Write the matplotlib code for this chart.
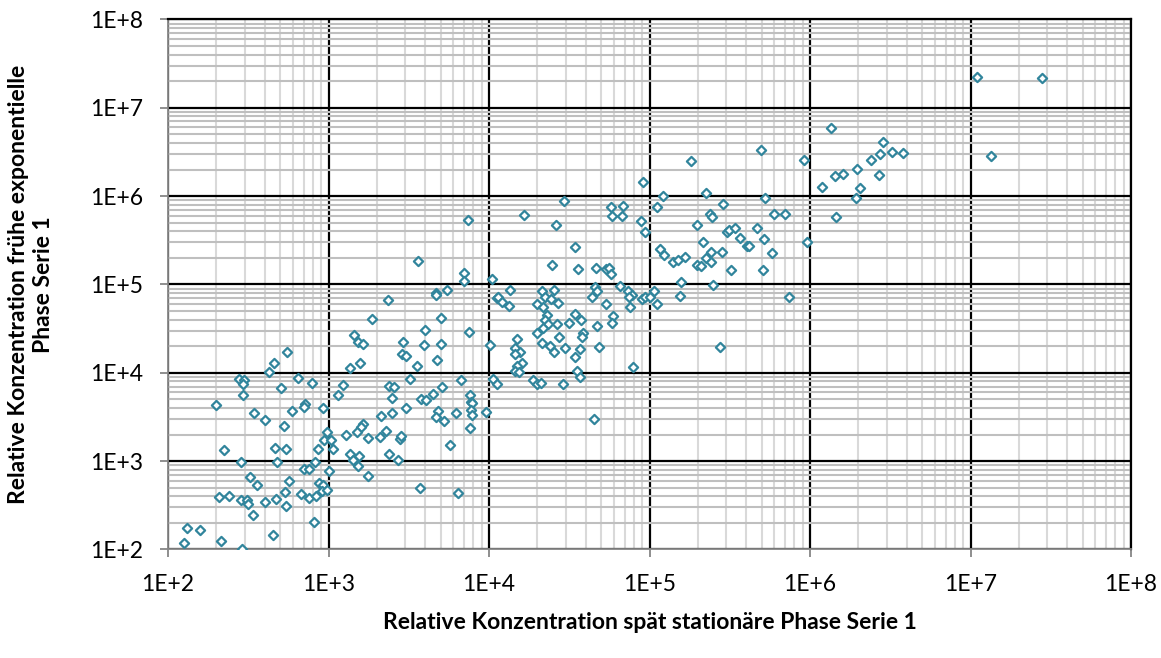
import matplotlib.pyplot as plt
from matplotlib.ticker import LogLocator, FixedLocator

plt.rcParams['font.family'] = ['Lato', 'DejaVu Sans']

# relative concentration, late stationary phase (x) vs early exponential phase (y)
spaet = [
    5.49e2, 4.57e2, 4.28e2, 2.77e2, 2.98e2, 2.92e2, 6.48e2, 7.86e2, 5.04e2, 2.94e2,
    1.15e3, 1.98e2, 7.14e2, 7.07e2, 9.24e2, 5.95e2, 3.42e2, 4.02e2, 5.28e2, 9.75e2,
    9.42e2, 1.03e3, 2.23e2, 4.62e2, 5.41e2, 8.64e2, 1.07e3, 2.84e2, 4.80e2, 8.24e2,
    7.07e2, 7.59e2, 1.01e3, 3.24e2, 5.67e2, 3.57e2, 8.73e2, 9.20e2, 5.36e2, 6.74e2,
    9.07e2, 9.75e2, 2.09e2, 2.41e2, 2.85e2, 3.09e2, 3.16e2, 4.00e2, 4.71e2, 7.56e2,
    8.32e2, 5.43e2, 3.37e2, 8.12e2, 1.31e2, 1.58e2, 1.26e2, 2.15e2, 4.49e2, 2.90e2,
    7.43e3, 3.61e3, 6.99e3, 6.99e3, 1.05e4, 4.65e3, 4.65e3, 5.50e3, 1.12e4, 2.36e3,
    1.87e3, 5.02e3, 4.01e3, 7.54e3, 1.44e3, 1.53e3, 1.65e3, 2.91e3, 3.94e3, 5.05e3,
    1.01e4, 2.87e3, 3.04e3, 4.76e3, 1.58e3, 1.37e3, 3.56e3, 1.23e3, 2.39e3, 2.56e3,
    3.23e3, 5.09e3, 6.69e3, 1.06e4, 1.12e4, 2.49e3, 3.77e3, 4.05e3, 4.48e3, 7.64e3,
    7.69e3, 7.80e3, 7.72e3, 7.87e3, 2.13e3, 2.49e3, 3.04e3, 4.81e3, 4.70e3, 5.25e3,
    6.25e3, 9.53e3, 1.65e3, 1.59e3, 1.51e3, 1.29e3, 1.76e3, 2.10e3, 2.29e3, 2.78e3,
    2.84e3, 7.64e3, 5.71e3, 1.36e3, 1.54e3, 1.43e3, 1.52e3, 2.39e3, 2.71e3, 1.75e3,
    3.73e3, 6.44e3,
    9.12e4, 2.94e4, 1.66e4, 2.61e4, 5.73e4, 6.87e4, 5.81e4, 6.74e4, 1.12e5, 8.89e4,
    9.33e4, 3.43e4, 1.16e5, 2.48e4, 3.57e4, 4.64e4, 5.36e4, 5.62e4, 5.78e4, 1.35e4,
    2.15e4, 2.55e4, 2.23e4, 2.43e4, 4.57e4, 4.73e4, 4.40e4, 6.55e4, 7.38e4, 7.82e4,
    7.42e4, 9.02e4, 9.42e4, 1.01e5, 1.06e5, 1.11e5, 1.13e4, 1.20e4, 1.33e4, 2.00e4,
    2.18e4, 2.70e4, 5.36e4, 7.59e4, 2.29e4, 2.23e4, 2.34e4, 2.18e4, 3.42e4, 3.73e4,
    2.66e4, 3.14e4, 4.69e4, 5.90e4, 5.86e4, 1.99e4, 3.84e4, 3.78e4, 2.72e4, 1.49e4,
    2.15e4, 2.40e4, 2.53e4, 2.99e4, 3.69e4, 4.86e4, 1.45e4, 1.56e4, 1.45e4, 3.42e4,
    1.61e4, 1.49e4, 1.45e4, 1.53e4, 7.85e4, 3.55e4, 3.69e4, 1.87e4, 2.00e4, 2.11e4,
    2.90e4, 4.51e4,
    1.35e6, 4.97e5, 1.81e5, 9.21e5, 1.44e6, 1.18e6, 1.21e5, 2.24e5, 5.25e5, 2.88e5,
    2.39e5, 2.46e5, 6.00e5, 6.95e5, 1.46e6, 1.98e5, 3.03e5, 3.14e5, 3.41e5, 4.66e5,
    3.66e5, 5.19e5, 4.05e5, 4.17e5, 2.16e5, 9.62e5, 1.23e5, 1.40e5, 1.50e5, 1.67e5,
    2.43e5, 2.25e5, 2.42e5, 1.99e5, 2.10e5, 2.82e5, 3.22e5, 5.12e5, 5.82e5, 1.56e5,
    2.48e5, 1.55e5, 7.36e5, 2.76e5,
    1.10e7, 2.79e7, 2.84e6, 2.74e6, 3.24e6, 3.81e6, 2.39e6, 1.97e6, 1.61e6, 2.68e6,
    1.34e7, 2.06e6, 1.93e6,
]
frueh = [
    1.73e4, 1.28e4, 1.02e4, 8.51e3, 8.30e3, 7.48e3, 8.81e3, 7.62e3, 6.79e3, 5.61e3,
    5.61e3, 4.29e3, 4.44e3, 4.07e3, 4.03e3, 3.70e3, 3.51e3, 2.90e3, 2.48e3, 2.14e3,
    1.74e3, 1.72e3, 1.35e3, 1.41e3, 1.38e3, 1.36e3, 1.36e3, 9.71e2, 9.71e2, 9.79e2,
    8.15e2, 8.15e2, 7.74e2, 6.62e2, 6.01e2, 5.37e2, 5.70e2, 5.33e2, 4.48e2, 4.22e2,
    4.63e2, 4.72e2, 3.90e2, 4.03e2, 3.63e2, 3.63e2, 3.27e2, 3.48e2, 3.70e2, 3.83e2,
    4.00e2, 3.08e2, 2.46e2, 2.05e2, 1.74e2, 1.68e2, 1.18e2, 1.25e2, 1.46e2, 1.02e2,
    5.37e5, 1.83e5, 1.34e5, 1.09e5, 1.15e5, 8.08e4, 7.67e4, 8.67e4, 7.10e4, 6.73e4,
    4.10e4, 4.14e4, 3.03e4, 2.88e4, 2.68e4, 2.23e4, 2.14e4, 2.25e4, 2.07e4, 2.10e4,
    2.05e4, 1.63e4, 1.55e4, 1.41e4, 1.30e4, 1.14e4, 1.19e4, 7.28e3, 7.10e3, 6.97e3,
    8.45e3, 6.86e3, 8.24e3, 8.45e3, 7.48e3, 5.15e3, 5.01e3, 4.93e3, 5.81e3, 5.61e3,
    4.68e3, 4.59e3, 3.80e3, 3.36e3, 3.25e3, 3.54e3, 4.03e3, 3.73e3, 3.14e3, 2.83e3,
    3.54e3, 3.60e3, 2.61e3, 2.46e3, 2.12e3, 1.98e3, 1.83e3, 1.86e3, 2.21e3, 1.80e3,
    1.93e3, 2.36e3, 1.51e3, 1.21e3, 1.15e3, 1.03e3, 8.81e2, 1.22e3, 1.03e3, 6.74e2,
    4.93e2, 4.40e2,
    1.46e6, 8.75e5, 6.17e5, 4.72e5, 7.48e5, 7.74e5, 5.97e5, 5.97e5, 7.60e5, 5.24e5,
    3.96e5, 2.68e5, 2.52e5, 1.66e5, 1.50e5, 1.53e5, 1.50e5, 1.54e5, 1.33e5, 8.73e4,
    8.51e4, 8.60e4, 7.28e4, 6.85e4, 9.44e4, 8.45e4, 7.28e4, 9.62e4, 8.45e4, 7.60e4,
    7.16e4, 6.81e4, 7.16e4, 7.16e4, 8.45e4, 6.01e4, 7.28e4, 6.29e4, 5.71e4, 6.01e4,
    5.52e4, 6.12e4, 5.97e4, 5.52e4, 4.48e4, 3.96e4, 3.57e4, 3.24e4, 4.60e4, 3.93e4,
    3.57e4, 3.64e4, 3.39e4, 4.44e4, 3.70e4, 2.80e4, 2.82e4, 2.56e4, 2.56e4, 2.40e4,
    2.16e4, 2.01e4, 1.71e4, 1.91e4, 1.85e4, 1.98e4, 1.93e4, 1.73e4, 1.63e4, 1.52e4,
    1.30e4, 1.19e4, 1.06e4, 1.02e4, 1.16e4, 1.05e4, 9.04e3, 8.24e3, 7.48e3, 7.62e3,
    7.48e3, 2.98e3,
    5.87e6, 3.31e6, 2.48e6, 2.57e6, 1.71e6, 1.28e6, 1.01e6, 1.09e6, 9.46e5, 8.15e5,
    6.34e5, 5.81e5, 6.28e5, 6.28e5, 5.86e5, 4.75e5, 3.96e5, 4.18e5, 4.33e5, 4.36e5,
    3.33e5, 3.25e5, 2.75e5, 2.75e5, 3.01e5, 3.03e5, 2.16e5, 1.80e5, 1.91e5, 2.05e5,
    2.33e5, 1.98e5, 1.81e5, 1.66e5, 1.62e5, 2.32e5, 1.47e5, 1.45e5, 2.29e5, 1.06e5,
    9.95e4, 7.47e4, 7.28e4, 1.95e4,
    2.22e7, 2.16e7, 4.07e6, 3.00e6, 3.14e6, 3.10e6, 2.55e6, 2.01e6, 1.78e6, 1.72e6,
    2.83e6, 1.24e6, 9.61e5,
]

dekaden = [1e2, 1e3, 1e4, 1e5, 1e6, 1e7, 1e8]
dekaden_text = ['1E+2', '1E+3', '1E+4', '1E+5', '1E+6', '1E+7', '1E+8']

fig = plt.figure(figsize=(11.61, 6.58), dpi=100)
ax = fig.add_axes([0.1447, 0.1649, 0.8295, 0.8055])

ax.scatter(spaet, frueh, marker='D', s=22, facecolors='white',
           edgecolors='#31859C', linewidths=1.6, zorder=3)

ax.set_xscale('log')
ax.set_yscale('log')
ax.set_xlim(1e2, 1e8)
ax.set_ylim(1e2, 1e8)

ax.xaxis.set_major_locator(FixedLocator(dekaden))
ax.yaxis.set_major_locator(FixedLocator(dekaden))
ax.xaxis.set_minor_locator(LogLocator(base=10, subs=range(2, 10), numticks=20))
ax.yaxis.set_minor_locator(LogLocator(base=10, subs=range(2, 10), numticks=20))
ax.set_xticklabels(dekaden_text)
ax.set_yticklabels(dekaden_text)

# gitter: schwarz fuer dekaden, grau dazwischen
ax.grid(which='minor', axis='x', color='#d9d9d9', lw=1.5)
ax.grid(which='minor', axis='y', color='#bfbfbf', lw=1.5)
ax.grid(which='major', color='black', lw=1.6)
ax.set_axisbelow(True)

ax.tick_params(which='minor', length=0)
ax.tick_params(which='major', direction='out', length=6, width=1.3,
               color='#868686', labelsize=16.5)
ax.tick_params(axis='x', pad=12)
ax.tick_params(axis='y', pad=12)

for s in ['left', 'bottom']:
    ax.spines[s].set_color('#868686')
    ax.spines[s].set_linewidth(1.3)
for s in ['top', 'right']:
    ax.spines[s].set_color('black')
    ax.spines[s].set_linewidth(1.6)

ax.set_xlabel('Relative Konzentration spät stationäre Phase Serie 1',
              fontsize=16.5, fontweight='bold', labelpad=12)
ax.set_ylabel('Relative Konzentration frühe exponentielle\nPhase Serie 1',
              fontsize=16.5, fontweight='bold', labelpad=26, linespacing=1.2)

fig.savefig('out.png', dpi=100)
